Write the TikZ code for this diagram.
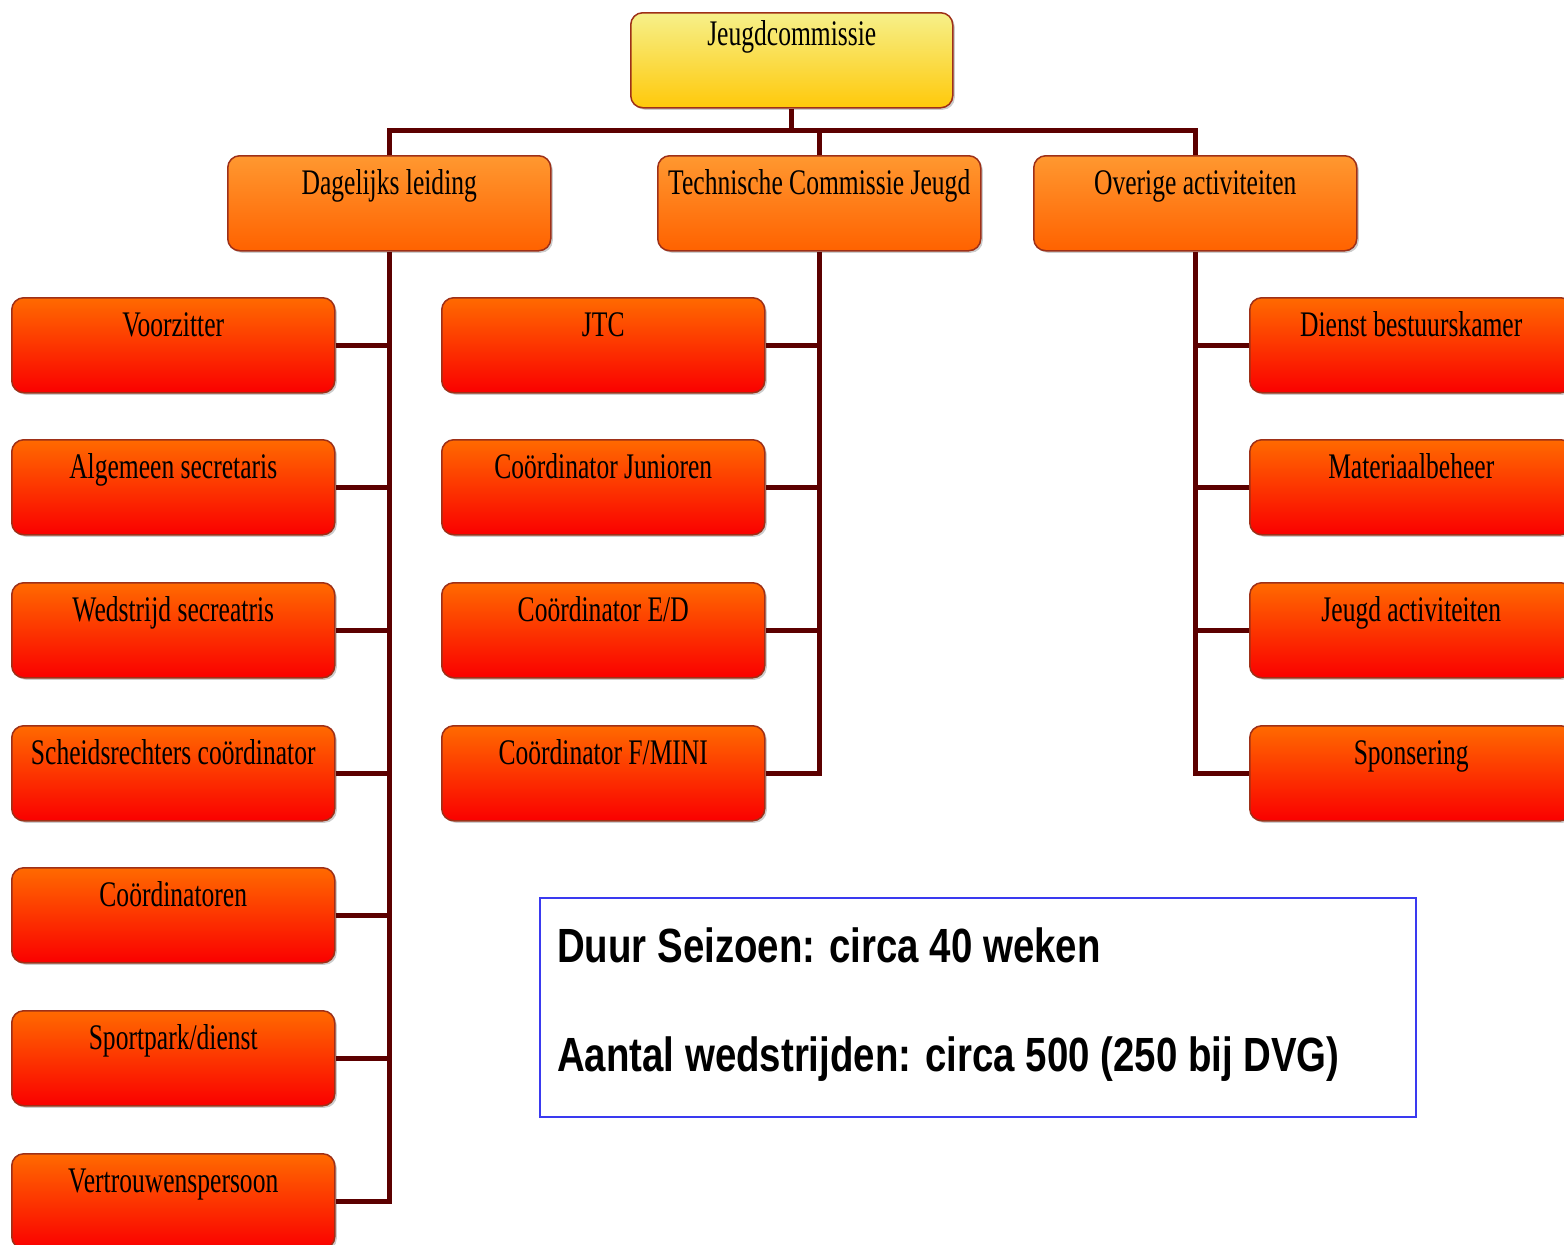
\documentclass[tikz,border=0pt]{standalone}
\usepackage{fontspec}
\setmainfont{Liberation Serif}
\newfontfamily\boxfont[FakeStretch=0.71]{Liberation Serif}
\newfontfamily\infofont[FakeStretch=0.8]{Liberation Sans}
\usetikzlibrary{shadows}
\definecolor{yellowtop}{HTML}{F6F08A}
\definecolor{yellowbot}{HTML}{FFC90A}
\definecolor{orangetop}{HTML}{FF9830}
\definecolor{orangebot}{HTML}{FF6200}
\definecolor{redtop}{HTML}{FF6A00}
\definecolor{redbot}{HTML}{FA0000}
\definecolor{boxborder}{HTML}{9E3018}
\definecolor{connred}{HTML}{5C0000}
\definecolor{infoblue}{HTML}{3A3AF0}
\begin{document}
\begin{tikzpicture}[x=1pt,y=-1pt,
  box/.style={draw=boxborder, line width=1.5pt, rounded corners=12pt,
    minimum width=323pt, minimum height=95pt, inner sep=0pt,
    text height=39pt, text depth=56pt, anchor=north west,
    font=\boxfont\fontsize{36}{36}\selectfont,
    drop shadow={shadow xshift=2pt, shadow yshift=-2pt, opacity=0.2, fill=black}},
  lvlone/.style={box, top color=yellowtop, bottom color=yellowbot},
  lvltwo/.style={box, top color=orangetop, bottom color=orangebot},
  lvlthree/.style={box, top color=redtop, bottom color=redbot},
  conn/.style={draw=connred, line width=5pt},
  infotext/.style={anchor=base west, inner sep=0pt, font=\infofont\bfseries\fontsize{48}{48}\selectfont}
]
\useasboundingbox (0,0) rectangle (1564,1245);
\clip (0,0) rectangle (1564,1245);

% level 1
\node[lvlone, minimum width=322pt, text height=33pt, text depth=62pt] (jc) at (630,12) {Jeugdcommissie};

% level 2
\node[lvltwo] (dag) at (227,155) {Dagelijks leiding};
\node[lvltwo] (tcj) at (657,155) {Technische Commissie Jeugd};
\node[lvltwo] (ova) at (1033,155) {Overige activiteiten};

% left column
\node[lvlthree] (L1) at (11,297) {Voorzitter};
\node[lvlthree] (L2) at (11,439) {Algemeen secretaris};
\node[lvlthree] (L3) at (11,582) {Wedstrijd secreatris};
\node[lvlthree] (L4) at (11,725) {Scheidsrechters coördinator};
\node[lvlthree] (L5) at (11,867) {Coördinatoren};
\node[lvlthree] (L6) at (11,1010) {Sportpark/dienst};
\node[lvlthree] (L7) at (11,1153) {Vertrouwenspersoon};

% middle column
\node[lvlthree] (M1) at (441,297) {JTC};
\node[lvlthree] (M2) at (441,439) {Coördinator Junioren};
\node[lvlthree] (M3) at (441,582) {Coördinator E/D};
\node[lvlthree] (M4) at (441,725) {Coördinator F/MINI};

% right column
\node[lvlthree] (R1) at (1249,297) {Dienst bestuurskamer};
\node[lvlthree] (R2) at (1249,439) {Materiaalbeheer};
\node[lvlthree] (R3) at (1249,582) {Jeugd activiteiten};
\node[lvlthree] (R4) at (1249,725) {Sponsering};

% connectors
\coordinate (bus) at (0,130);
\draw[conn] (jc.south) -- (jc.south |- bus);
\draw[conn] (dag.north) -- (dag.north |- bus) -- (ova.north |- bus) -- (ova.north);
\draw[conn] (tcj.north) -- (tcj.north |- bus);

\draw[conn] (dag.south) |- (L7.east);
\foreach \i in {1,...,6} \draw[conn] (L\i.east) -- (L\i.east -| dag.south);

\draw[conn] (tcj.south) |- (M4.east);
\foreach \i in {1,2,3} \draw[conn] (M\i.east) -- (M\i.east -| tcj.south);

\draw[conn] (ova.south) |- (R4.west);
\foreach \i in {1,2,3} \draw[conn] (R\i.west) -- (R\i.west -| ova.south);

% info box
\node[draw=infoblue, line width=2pt, minimum width=876pt, minimum height=219pt,
  inner sep=0pt, anchor=north west] (info) at (539,897) {};
\node[infotext] (t1) at (557,962) {Duur Seizoen: circa 40 weken};
\node[infotext] (t2) at (557,1071) {Aantal wedstrijden: circa 500 (250 bij DVG)};
\end{tikzpicture}
\end{document}
